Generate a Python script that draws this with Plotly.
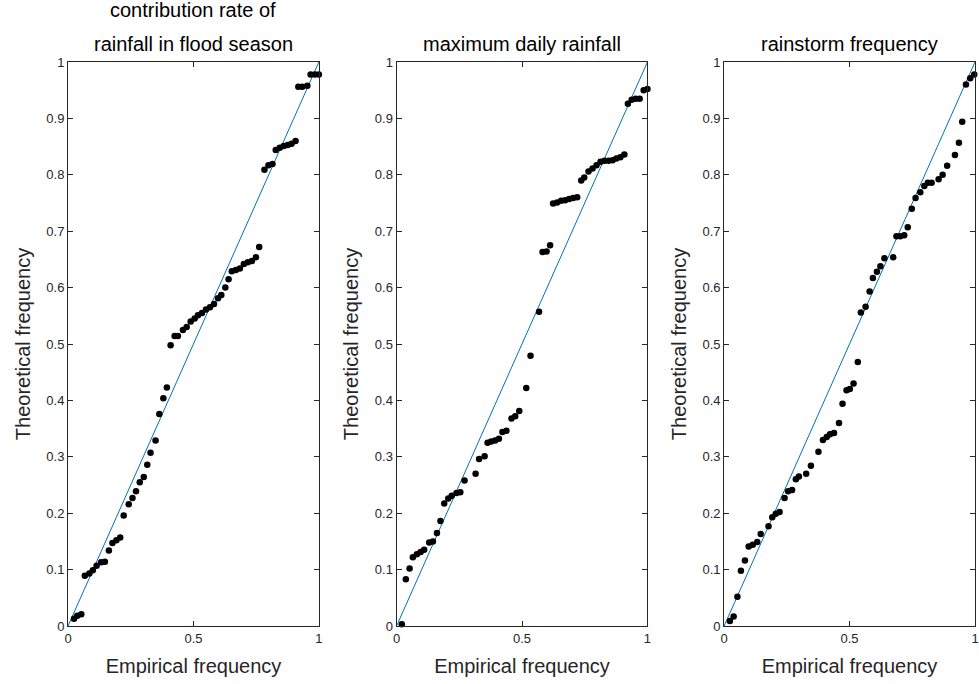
import plotly.graph_objects as go

# ---------- data ----------
titles = [["contribution rate of", "rainfall in flood season"],
          ["maximum daily rainfall"],
          ["rainstorm frequency"]]
x_label = "Empirical frequency"
y_label = "Theoretical frequency"

x_tickvals = [0, 0.5, 1]
x_ticktext = ["0", "0.5", "1"]
y_tickvals = [0, 0.1, 0.2, 0.3, 0.4, 0.5, 0.6, 0.7, 0.8, 0.9, 1]
y_ticktext = ["0", "0.1", "0.2", "0.3", "0.4", "0.5", "0.6", "0.7", "0.8", "0.9", "1"]

diag_x = [0, 1]
diag_y = [0, 1]

# panel 1: contribution rate of rainfall in flood season
p1_x = [0.024, 0.037, 0.053, 0.067, 0.085, 0.099, 0.114, 0.132, 0.147, 0.163,
        0.177, 0.193, 0.208, 0.222, 0.242, 0.257, 0.271, 0.286, 0.302, 0.316,
        0.329, 0.349, 0.364, 0.380, 0.394, 0.409, 0.425, 0.438, 0.458, 0.473,
        0.489, 0.505, 0.518, 0.534, 0.550, 0.566, 0.582, 0.598, 0.611, 0.627,
        0.640, 0.653, 0.669, 0.685, 0.701, 0.717, 0.733, 0.749, 0.762, 0.783,
        0.799, 0.815, 0.828, 0.844, 0.860, 0.876, 0.891, 0.907, 0.918, 0.934,
        0.954, 0.967, 0.984, 1.000]
p1_y = [0.013, 0.018, 0.021, 0.089, 0.093, 0.099, 0.107, 0.113, 0.114, 0.134,
        0.147, 0.152, 0.157, 0.196, 0.216, 0.227, 0.239, 0.255, 0.264, 0.286,
        0.307, 0.329, 0.376, 0.404, 0.423, 0.498, 0.514, 0.514, 0.525, 0.530,
        0.540, 0.545, 0.551, 0.555, 0.561, 0.565, 0.571, 0.581, 0.587, 0.600,
        0.615, 0.629, 0.631, 0.634, 0.642, 0.645, 0.647, 0.654, 0.672, 0.809,
        0.817, 0.819, 0.844, 0.848, 0.851, 0.853, 0.855, 0.860, 0.956, 0.956,
        0.958, 0.978, 0.978, 0.978]

# panel 2: maximum daily rainfall
p2_x = [0.021, 0.037, 0.052, 0.065, 0.081, 0.096, 0.110, 0.130, 0.145, 0.161,
        0.175, 0.190, 0.206, 0.220, 0.239, 0.254, 0.271, 0.315, 0.329, 0.351,
        0.363, 0.377, 0.393, 0.408, 0.422, 0.438, 0.458, 0.473, 0.489, 0.517,
        0.534, 0.568, 0.582, 0.598, 0.612, 0.624, 0.640, 0.656, 0.672, 0.688,
        0.704, 0.720, 0.736, 0.748, 0.765, 0.781, 0.797, 0.813, 0.829, 0.845,
        0.861, 0.876, 0.892, 0.908, 0.922, 0.937, 0.953, 0.969, 0.985, 1.000]
p2_y = [0.003, 0.083, 0.102, 0.122, 0.127, 0.131, 0.135, 0.148, 0.150, 0.165,
        0.186, 0.217, 0.226, 0.231, 0.236, 0.237, 0.258, 0.270, 0.296, 0.301,
        0.325, 0.327, 0.329, 0.332, 0.344, 0.346, 0.368, 0.372, 0.381, 0.422,
        0.479, 0.557, 0.663, 0.664, 0.675, 0.749, 0.751, 0.754, 0.755, 0.757,
        0.759, 0.760, 0.790, 0.795, 0.806, 0.811, 0.817, 0.823, 0.825, 0.825,
        0.826, 0.829, 0.831, 0.836, 0.926, 0.933, 0.935, 0.935, 0.950, 0.952]

# panel 3: rainstorm frequency
p3_x = [0.023, 0.038, 0.053, 0.067, 0.083, 0.098, 0.114, 0.132, 0.146, 0.177,
        0.192, 0.206, 0.221, 0.241, 0.255, 0.271, 0.286, 0.298, 0.327, 0.346,
        0.376, 0.394, 0.409, 0.422, 0.438, 0.458, 0.472, 0.488, 0.501, 0.516,
        0.533, 0.545, 0.564, 0.580, 0.593, 0.609, 0.623, 0.639, 0.674, 0.687,
        0.702, 0.718, 0.732, 0.748, 0.763, 0.782, 0.798, 0.812, 0.827, 0.855,
        0.871, 0.889, 0.920, 0.936, 0.949, 0.964, 0.981, 0.997]
p3_y = [0.009, 0.017, 0.052, 0.098, 0.116, 0.141, 0.144, 0.149, 0.163, 0.177,
        0.193, 0.199, 0.202, 0.227, 0.239, 0.241, 0.260, 0.265, 0.270, 0.284,
        0.309, 0.330, 0.335, 0.340, 0.342, 0.360, 0.394, 0.418, 0.420, 0.430,
        0.468, 0.556, 0.566, 0.593, 0.617, 0.628, 0.638, 0.652, 0.654, 0.691,
        0.691, 0.693, 0.707, 0.740, 0.759, 0.769, 0.780, 0.786, 0.786, 0.792,
        0.800, 0.816, 0.835, 0.857, 0.894, 0.960, 0.971, 0.978]

panels = [(p1_x, p1_y), (p2_x, p2_y), (p3_x, p3_y)]

# ---------- figure ----------
W, H = 979, 684
ml, mr, mt, mb = 68, 0, 62, 58
pw = W - ml - mr
plot_left = [68, 398, 727]
plot_w = 252
domains = [[(l - ml) / pw, min(1.0, (l - ml + plot_w) / pw)] for l in plot_left]

fig = go.Figure()
axis_col = "#262626"
font_fam = "Liberation Sans, Arial, sans-serif"

for i, (px, py) in enumerate(panels):
    xa = "x" if i == 0 else f"x{i+1}"
    ya = "y" if i == 0 else f"y{i+1}"
    fig.add_trace(go.Scatter(x=diag_x, y=diag_y, mode="lines",
                             line=dict(color="#0072BD", width=1),
                             xaxis=xa, yaxis=ya, showlegend=False,
                             hoverinfo="skip"))
    fig.add_trace(go.Scatter(x=px, y=py, mode="markers",
                             marker=dict(color="black", size=6.5),
                             xaxis=xa, yaxis=ya, showlegend=False,
                             cliponaxis=False))
    common = dict(range=[0, 1], showgrid=False, zeroline=False,
                  showline=True, mirror="ticks", linecolor=axis_col,
                  linewidth=1, ticks="inside", ticklen=5, tickwidth=1,
                  tickcolor=axis_col,
                  tickfont=dict(family=font_fam, size=13, color=axis_col))
    xkey = "xaxis" if i == 0 else f"xaxis{i+1}"
    ykey = "yaxis" if i == 0 else f"yaxis{i+1}"
    fig.update_layout(**{
        xkey: dict(domain=domains[i], anchor=ya, tickvals=x_tickvals,
                   ticktext=x_ticktext,
                   title=dict(text=x_label, standoff=14,
                              font=dict(family=font_fam, size=20, color=axis_col)),
                   **common),
        ykey: dict(domain=[0, 1], anchor=xa, tickvals=y_tickvals,
                   ticktext=y_ticktext,
                   title=dict(text=y_label, standoff=10,
                              font=dict(family=font_fam, size=20, color=axis_col)),
                   **common),
    })
    cx = (plot_left[i] - ml + plot_w / 2) / pw
    lines = titles[i]
    n = len(lines)
    for k, line in enumerate(lines):
        fig.add_annotation(text=line, xref="paper", yref="paper",
                           x=cx, y=1, xanchor="center", yanchor="bottom",
                           yshift=5 + (n - 1 - k) * 34,
                           showarrow=False,
                           font=dict(family=font_fam, size=20, color="black"))

fig.update_layout(width=W, height=H, margin=dict(l=ml, r=mr, t=mt, b=mb),
                  paper_bgcolor="white", plot_bgcolor="white")

fig.write_html("out.html")
